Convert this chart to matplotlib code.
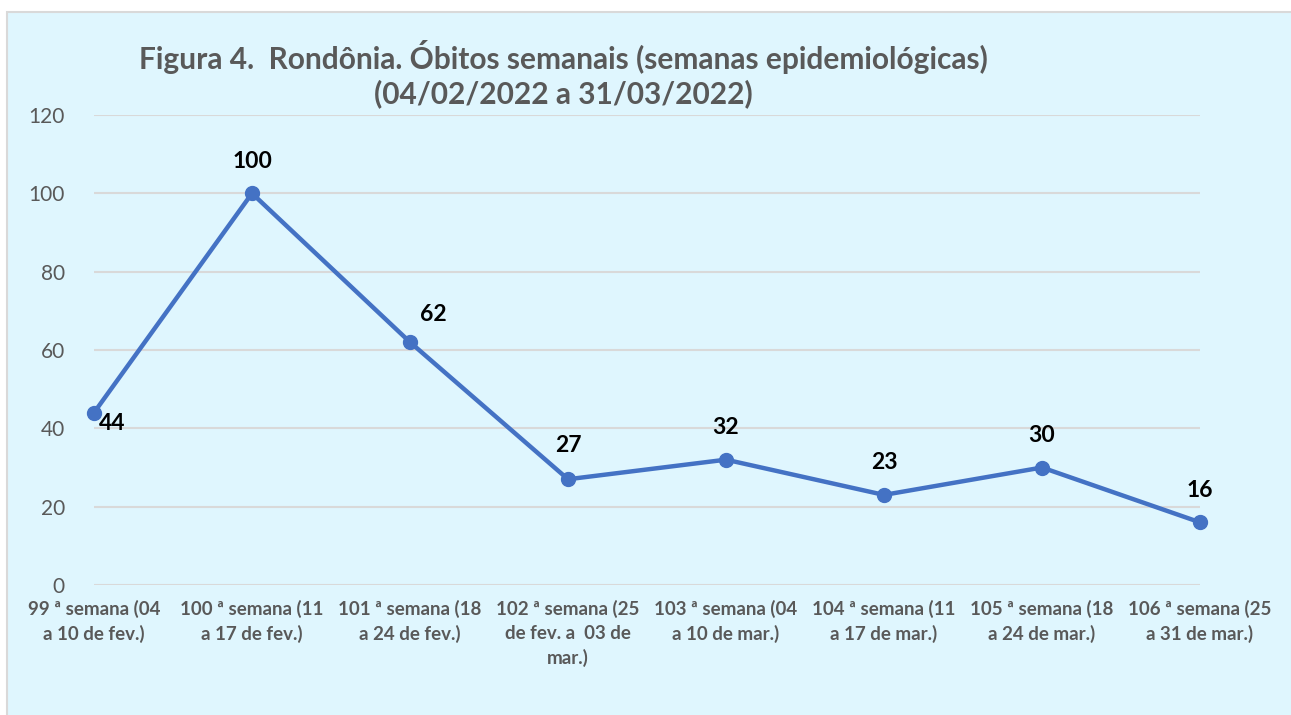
import matplotlib
matplotlib.use("Agg")
import matplotlib.pyplot as plt
from matplotlib.patches import Rectangle

plt.rcParams["font.family"] = ["Lato", "DejaVu Sans"]

semanas = ["99 ª semana (04\na 10 de fev.)", "100 ª semana (11\na 17 de fev.)",
           "101 ª semana (18\na 24 de fev.)", "102 ª semana (25\nde fev. a  03 de\nmar.)",
           "103 ª semana (04\na 10 de mar.)", "104 ª semana (11\na 17 de mar.)",
           "105 ª semana (18\na 24 de mar.)", "106 ª semana (25\na 31 de mar.)"]
obitos = [44, 100, 62, 27, 32, 23, 30, 16]
# label offsets in points (dx, dy) relative to each marker
offsets = [(13, -8), (0, 23), (17, 20), (0, 24), (0, 23), (0, 23), (0, 23), (0, 23)]

W, H = 1291, 715
fig = plt.figure(figsize=(W / 100, H / 100), dpi=100)
fig.patch.set_facecolor("white")
fig.patches.append(Rectangle((7 / W, -0.01), 1.02, 1 - 12 / H + 0.01, transform=fig.transFigure,
                             facecolor="#DFF6FE", edgecolor="#D9D9D9", lw=1.5, zorder=-10))

ax = fig.add_axes([94 / W, 130 / H, 1106 / W, 470 / H])
ax.set_facecolor("none")
x = list(range(len(obitos)))
ax.plot(x, obitos, color="#4472C4", lw=3.2, marker="o", ms=10, zorder=3, clip_on=False)
for xi, v, (dx, dy) in zip(x, obitos, offsets):
    ax.annotate(str(v), (xi, v), xytext=(dx, dy), textcoords="offset points",
                ha="center", va="center", fontsize=16.5, fontweight="bold", color="black")

ax.set_xlim(0, 7)
ax.set_ylim(0, 120)
ax.set_yticks(range(0, 121, 20))
ax.grid(axis="y", color="#D9D9D9", lw=1.5)
ax.set_axisbelow(True)
for s in ax.spines.values():
    s.set_visible(False)
ax.tick_params(axis="both", length=0, colors="#595959")
ax.tick_params(axis="y", labelsize=15, pad=21)
ax.set_xticks(x)
ax.set_xticklabels(semanas, fontsize=13.5, fontweight="bold", color="#595959", linespacing=1.45)
ax.tick_params(axis="x", pad=11)

fig.text(563 / W, 1 - 74 / H, "Figura 4.  Rondônia. Óbitos semanais (semanas epidemiológicas)\n(04/02/2022 a 31/03/2022)",
         ha="center", va="center", fontsize=21.5, fontweight="bold", color="#595959", linespacing=1.25)

fig.savefig("out.png", dpi=100)
